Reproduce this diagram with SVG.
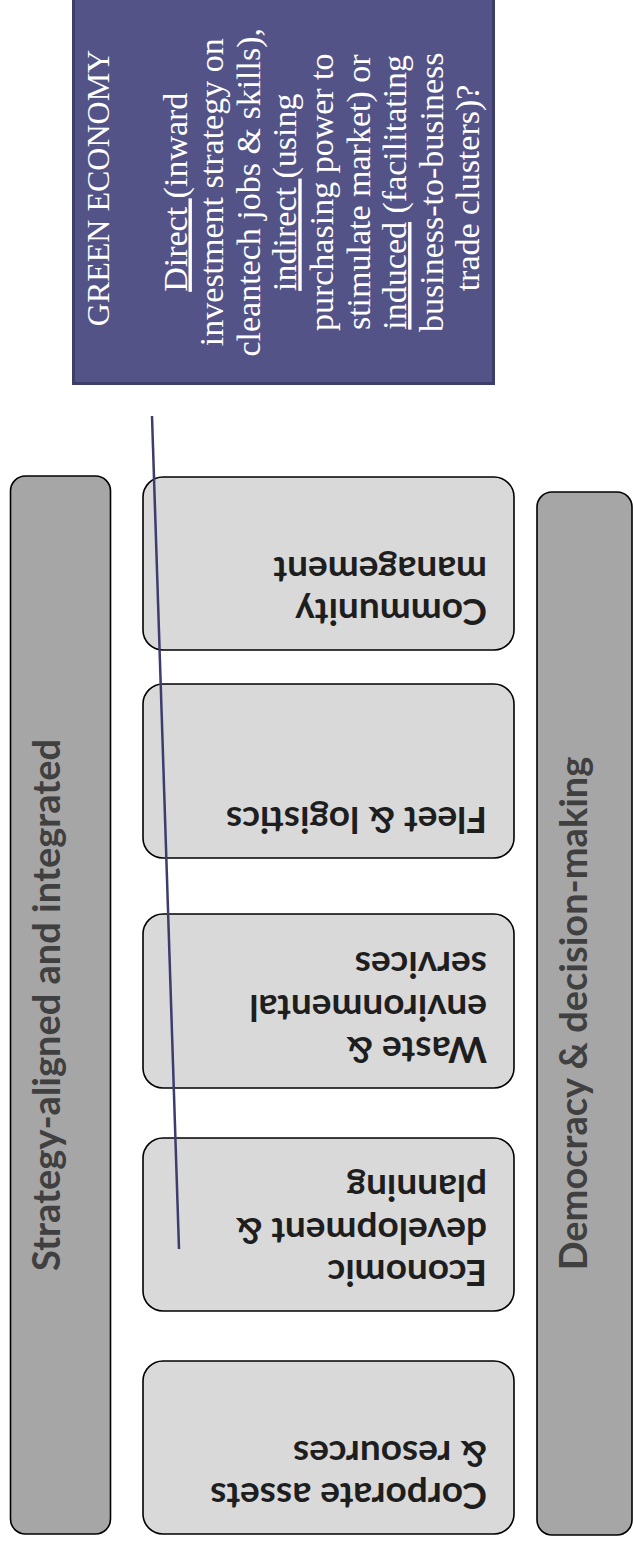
<svg xmlns="http://www.w3.org/2000/svg" width="633" height="1546" viewBox="0 0 633 1546">
  <style>
    .bar { fill: #a6a6a6; stroke: #000; stroke-width: 1.6; }
    .box { fill: #d9d9d9; stroke: #000; stroke-width: 1.6; }
    .bar-label { font-family: Lato, "Liberation Sans", sans-serif; font-weight: 700; font-size: 38px; fill: #404040; }
    .box-label { font-family: Lato, "Liberation Sans", sans-serif; font-weight: 700; font-size: 37px; fill: #1e1e1e; }
    .note { fill: #535388; stroke: #3e3e6a; stroke-width: 3; }
    .note-text { font-family: "Liberation Serif", "Times New Roman", serif; fill: #ffffff; text-anchor: middle; }
    .link { stroke: #3c3c6e; stroke-width: 2.5; fill: none; }
  </style>

  <!-- callout box, text reads bottom-to-top -->
  <g id="node-green-economy">
    <rect class="note" x="73.5" y="-20" width="420" height="403.5"/>
    <g transform="translate(0,188) rotate(-90)">
      <text class="note-text" x="0" y="109" font-size="32">GREEN ECONOMY</text>
      <text class="note-text" font-size="34">
        <tspan x="0" y="186.5"><tspan text-decoration="underline">Direct </tspan>(inward</tspan>
        <tspan x="0" y="223.1">investment strategy on</tspan>
        <tspan x="0" y="259.7">cleantech jobs &amp; skills),</tspan>
        <tspan x="0" y="296.3"><tspan text-decoration="underline">indirect </tspan>(using</tspan>
        <tspan x="0" y="332.9">purchasing power to</tspan>
        <tspan x="0" y="369.5">stimulate market) or</tspan>
        <tspan x="0" y="406.1"><tspan text-decoration="underline">induced</tspan> (facilitating</tspan>
        <tspan x="0" y="442.7">business-to-business</tspan>
        <tspan x="0" y="479.3">trade clusters)?</tspan>
      </text>
    </g>
  </g>

  <!-- side bars -->
  <g id="node-strategy">
    <rect class="bar" x="10.5" y="476" width="100" height="1058" rx="15"/>
    <text class="bar-label" transform="translate(60,1005) rotate(-90)" text-anchor="middle">Strategy-aligned and integrated</text>
  </g>
  <g id="node-democracy">
    <rect class="bar" x="537" y="492" width="95" height="1043" rx="15"/>
    <text class="bar-label" transform="translate(587,1013.5) rotate(-90)" text-anchor="middle">Democracy &amp; decision-making</text>
  </g>

  <!-- service boxes, turned half a revolution -->
  <g id="node-community" transform="rotate(180 328.5 563.5)">
    <rect class="box" x="143" y="477" width="371" height="173" rx="20"/>
    <text class="box-label"><tspan x="170" y="528">Community</tspan><tspan x="170" y="570.5">management</tspan></text>
  </g>
  <g id="node-fleet" transform="rotate(180 328.5 771)">
    <rect class="box" x="143" y="684" width="371" height="174" rx="20"/>
    <text class="box-label"><tspan x="170" y="735">Fleet &amp; logistics</tspan></text>
  </g>
  <g id="node-waste" transform="rotate(180 328.5 1001)">
    <rect class="box" x="143" y="914" width="371" height="174" rx="20"/>
    <text class="box-label"><tspan x="170" y="965">Waste &amp;</tspan><tspan x="170" y="1007.5">environmental</tspan><tspan x="170" y="1050">services</tspan></text>
  </g>
  <g id="node-economic" transform="rotate(180 328.5 1224.5)">
    <rect class="box" x="143" y="1138" width="371" height="173" rx="20"/>
    <text class="box-label"><tspan x="170" y="1189">Economic</tspan><tspan x="170" y="1231.5">development &amp;</tspan><tspan x="170" y="1274">planning</tspan></text>
  </g>
  <g id="node-corporate" transform="rotate(180 328.5 1447.5)">
    <rect class="box" x="143" y="1361" width="371" height="173" rx="20"/>
    <text class="box-label"><tspan x="170" y="1412">Corporate assets</tspan><tspan x="170" y="1454.5">&amp; resources</tspan></text>
  </g>

  <g id="connectors">
    <line class="link" x1="152" y1="416" x2="179" y2="1249"/>
  </g>
</svg>
